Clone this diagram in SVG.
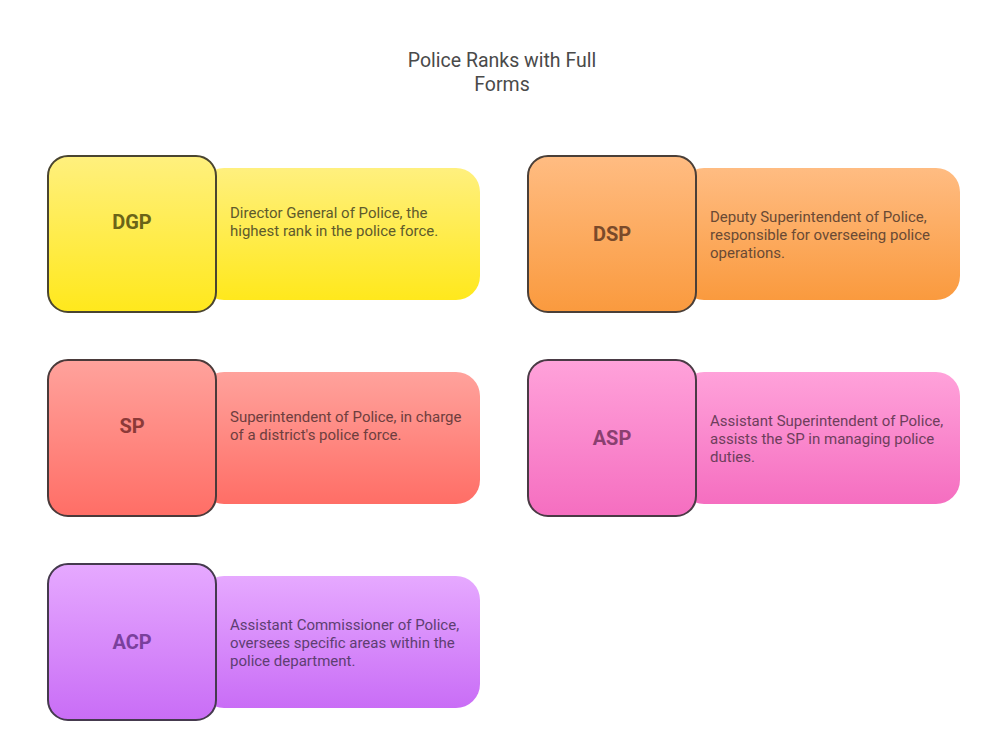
<svg xmlns="http://www.w3.org/2000/svg" width="1008" height="744" viewBox="0 0 1008 744">
<defs>
<linearGradient id="gY" x1="0" y1="0" x2="0" y2="1"><stop offset="0" stop-color="#FFF07E"/><stop offset="1" stop-color="#FFE81C"/></linearGradient>
<linearGradient id="gO" x1="0" y1="0" x2="0" y2="1"><stop offset="0" stop-color="#FFBC82"/><stop offset="1" stop-color="#FA9A3E"/></linearGradient>
<linearGradient id="gR" x1="0" y1="0" x2="0" y2="1"><stop offset="0" stop-color="#FFA29C"/><stop offset="1" stop-color="#FF6E66"/></linearGradient>
<linearGradient id="gP" x1="0" y1="0" x2="0" y2="1"><stop offset="0" stop-color="#FFA2DA"/><stop offset="1" stop-color="#F56EC0"/></linearGradient>
<linearGradient id="gV" x1="0" y1="0" x2="0" y2="1"><stop offset="0" stop-color="#E6A9FF"/><stop offset="1" stop-color="#C96DF6"/></linearGradient>
</defs>
<style>
text{font-family:Roboto,"Liberation Sans",sans-serif}
.title{font-size:19.5px;fill:#4a4a4a;text-anchor:middle}
.lbl{font-size:20px;font-weight:bold;text-anchor:middle}
.desc{font-size:15px}
.sq{stroke-width:2}
</style>
<rect width="1008" height="744" fill="#ffffff"/>
<g id="title">
<text class="title" x="502" y="66.5">Police Ranks with Full</text>
<text class="title" x="502" y="90.5">Forms</text>
</g>
<g id="connectors"></g>
<g id="DGP">
<rect x="200" y="168" width="280" height="132" rx="24" fill="url(#gY)"/>
<rect class="sq" x="48" y="156" width="168" height="156" rx="20" fill="url(#gY)" stroke="#4a4530"/>
<text class="lbl" x="132" y="229" fill="#6b6418">DGP</text>
<text class="desc" fill="#5e5a2c"><tspan x="230" y="217.5">Director General of Police, the</tspan><tspan x="230" y="235.5">highest rank in the police force.</tspan></text>
</g>
<g id="DSP">
<rect x="680" y="168" width="280" height="132" rx="24" fill="url(#gO)"/>
<rect class="sq" x="528" y="156" width="168" height="156" rx="20" fill="url(#gO)" stroke="#4a3f38"/>
<text class="lbl" x="612" y="241" fill="#7a4a2a">DSP</text>
<text class="desc" fill="#6a4a34"><tspan x="710" y="221.5">Deputy Superintendent of Police,</tspan><tspan x="710" y="239.5">responsible for overseeing police</tspan><tspan x="710" y="257.5">operations.</tspan></text>
</g>
<g id="SP">
<rect x="200" y="372" width="280" height="132" rx="24" fill="url(#gR)"/>
<rect class="sq" x="48" y="360" width="168" height="156" rx="20" fill="url(#gR)" stroke="#4a3a3a"/>
<text class="lbl" x="132" y="433" fill="#8c3a38">SP</text>
<text class="desc" fill="#6e3e3e"><tspan x="230" y="421.5">Superintendent of Police, in charge</tspan><tspan x="230" y="439.5">of a district's police force.</tspan></text>
</g>
<g id="ASP">
<rect x="680" y="372" width="280" height="132" rx="24" fill="url(#gP)"/>
<rect class="sq" x="528" y="360" width="168" height="156" rx="20" fill="url(#gP)" stroke="#4a3a45"/>
<text class="lbl" x="612" y="445" fill="#8a3f70">ASP</text>
<text class="desc" fill="#6e3e5c"><tspan x="710" y="425.5">Assistant Superintendent of Police,</tspan><tspan x="710" y="443.5">assists the SP in managing police</tspan><tspan x="710" y="461.5">duties.</tspan></text>
</g>
<g id="ACP">
<rect x="200" y="576" width="280" height="132" rx="24" fill="url(#gV)"/>
<rect class="sq" x="48" y="564" width="168" height="156" rx="20" fill="url(#gV)" stroke="#453a4e"/>
<text class="lbl" x="132" y="649" fill="#7a409c">ACP</text>
<text class="desc" fill="#5e3e72"><tspan x="230" y="629.5">Assistant Commissioner of Police,</tspan><tspan x="230" y="647.5">oversees specific areas within the</tspan><tspan x="230" y="665.5">police department.</tspan></text>
</g>
</svg>
